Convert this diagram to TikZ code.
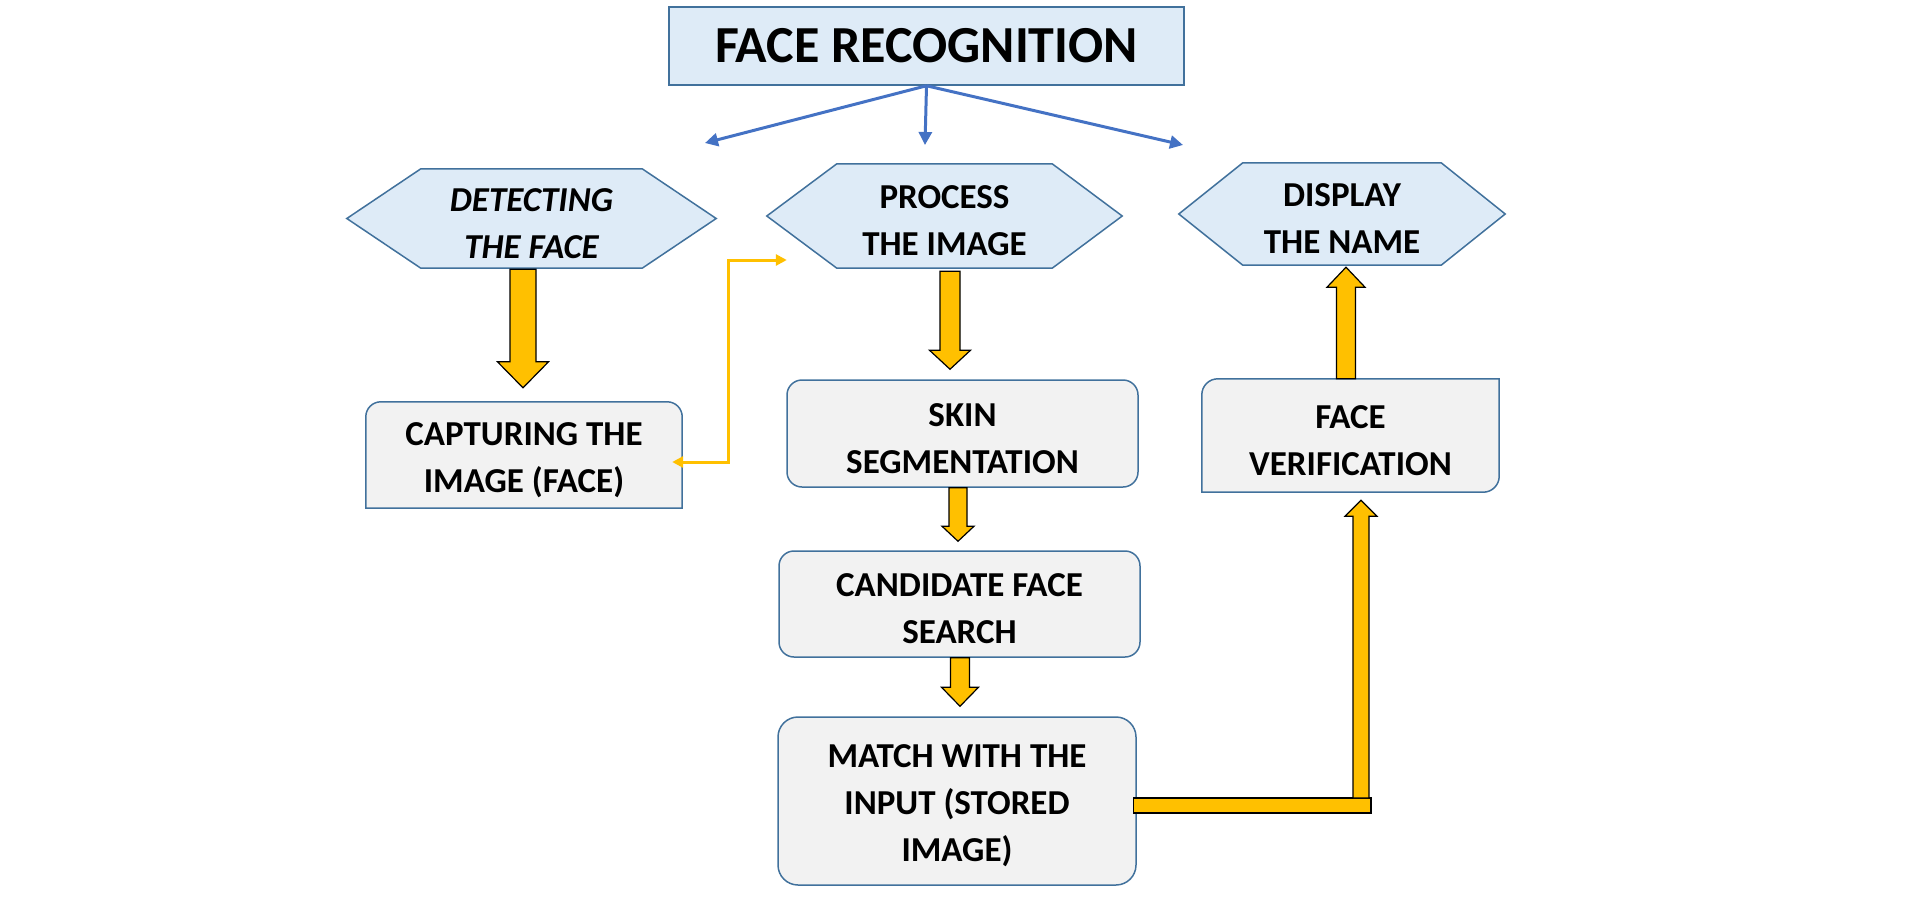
\documentclass[tikz,border=0pt]{standalone}
\usepackage{fontspec}
\setmainfont{Carlito}
\usepackage{tikz}
\usetikzlibrary{arrows.meta,backgrounds,calc}

\definecolor{hexblue}{HTML}{DEEBF7}
\definecolor{edgeblue}{HTML}{41719C}
\definecolor{boxgray}{HTML}{F2F2F2}
\definecolor{linkblue}{HTML}{4472C4}
\definecolor{gold}{HTML}{FFC000}

\newsavebox{\txtbox}

% block arrow: shaft half width, head half width, head length, from, tip
\newcommand{\fatarrow}[5]{%
  \draw[fatbar] let \p1=#4, \p2=#5, \n1={\y2-sign(\y2-\y1)*#3} in
    ({\x1-#1},\y1) -- ({\x1-#1},{\n1*1pt}) -- ({\x1-#2},{\n1*1pt}) -- (\x1,\y2)
    -- ({\x1+#2},{\n1*1pt}) -- ({\x1+#1},{\n1*1pt}) -- ({\x1+#1},\y1) -- cycle;}

\begin{document}
\begin{tikzpicture}[x=1pt,y=-1pt,
    lift/.style={execute at begin node={\setbox\txtbox=\hbox\bgroup},
      execute at end node={\egroup\ht\txtbox=\dimexpr\ht\txtbox+#1\relax\box\txtbox}},
    txt/.style={font=\bfseries\fontsize{35}{47}\selectfont,align=center,inner sep=0pt,lift=10pt},
    titlebox/.style={draw=edgeblue,fill=hexblue,line width=1.5pt,minimum width=515pt,minimum height=78pt,font=\bfseries\fontsize{52}{60}\selectfont},
    hexnode/.style={txt},
    hexline/.style={draw=edgeblue,fill=hexblue,line width=1.5pt},
    stage/.style={txt,draw=edgeblue,fill=boxgray,line width=1.5pt,rounded corners=15pt},
    plain/.style={txt},
    boxline/.style={draw=edgeblue,fill=boxgray,line width=1.5pt},
    feed/.style={draw=linkblue,line width=3pt,-{Triangle[length=13pt,width=13pt]}},
    link/.style={draw=gold,line width=3pt,{Triangle[length=11pt,width=11pt]}-{Triangle[length=11pt,width=11pt]}},
    fatbar/.style={fill=gold,draw=black,line width=1.2pt,line join=miter}]
  \useasboundingbox (0,0) rectangle (1914,913);

  \node[titlebox] (title) at (926.5,46) {FACE RECOGNITION};
  \node[hexnode,minimum width=221pt,minimum height=99pt] (detect) at (531.5,218.5) {\itshape DETECTING\\\itshape THE FACE};
  \node[hexnode,minimum width=215pt,minimum height=104pt] (process) at (944.5,216) {PROCESS\\THE IMAGE};
  \node[hexnode,minimum width=198pt,minimum height=102pt] (display) at (1342,214) {DISPLAY\\THE NAME};
  \node[plain,minimum width=316pt,minimum height=106pt] (capture) at (524,455) {CAPTURING THE\\IMAGE (FACE)};
  \node[stage,minimum width=351pt,minimum height=107pt] (skin) at (962.5,433.5) {SKIN\\SEGMENTATION};
  \node[stage,minimum width=361pt,minimum height=106pt] (cand) at (959.5,604) {CANDIDATE FACE\\SEARCH};
  \node[stage,minimum width=358pt,minimum height=168pt,rounded corners=20pt] (match) at (957,801) {MATCH WITH THE\\INPUT (STORED\\IMAGE)};
  \node[plain,minimum width=297pt,minimum height=113pt] (verify) at (1350.5,435.5) {FACE\\VERIFICATION};

  \begin{scope}[on background layer]
    \foreach \h/\c in {detect/74,process/70,display/64}
      \draw[hexline] (\h.north west) -- (\h.north east) -- ([xshift=\c]\h.east) -- (\h.south east)
        -- (\h.south west) -- ([xshift=-\c]\h.west) -- cycle;
    \draw[boxline] (capture.west) [rounded corners=15pt] -- (capture.north west) -- (capture.north east)
      -- (capture.east) [sharp corners] -- (capture.south east) -- (capture.south west) -- cycle;
    \draw[boxline] (verify.west) [rounded corners=16pt] -- (verify.north west) -- (verify.north) [sharp corners]
      -- (verify.north east) -- (verify.east) [rounded corners=16pt] -- (verify.south east)
      -- (verify.south) [sharp corners] -- (verify.south west) -- cycle;
  \end{scope}

  \coordinate (tipl) at (705,143);
  \coordinate (tipm) at (925,145);
  \coordinate (tipr) at (1183,145);
  \draw[feed] (title.south) -- (tipl);
  \draw[feed] (title.south) -- (tipm);
  \draw[feed] (title.south) -- (tipr);

  \coordinate (pin) at ($(process.west)+(-50,44)$);
  \draw[link] ($(capture.east)+(-10,7)$) -- ++(56,0) |- (pin);

  \fatarrow{13pt}{25.5pt}{26pt}{($(detect.south)+(-8.5,1)$)}{($(capture.north)+(-1,-14)$)}
  \fatarrow{10pt}{20.5pt}{19pt}{($(process.south)+(5.5,3)$)}{($(skin.north)+(-12.5,-10)$)}
  \fatarrow{9pt}{16pt}{15pt}{($(skin.south)+(-4.5,0)$)}{($(cand.north)+(-1.5,-9)$)}
  \fatarrow{9.5pt}{18.5pt}{19pt}{($(cand.south)+(0.5,0)$)}{($(match.north)+(3,-10)$)}
  \fatarrow{9.5pt}{19pt}{20pt}{($(verify.north)+(-4.5,0)$)}{($(display.south)+(4,2)$)}

  \coordinate (elbow) at ($(verify.south |- match.east)+(10.5,4.5)$);
  \draw[fatbar] ($(match.east)+(-3,-3)$) rectangle ($(elbow)+(10,7.5)$);
  \fatarrow{8pt}{16pt}{16pt}{($(elbow)+(0,-7.5)$)}{($(verify.south)+(10.5,8)$)}
\end{tikzpicture}
\end{document}
